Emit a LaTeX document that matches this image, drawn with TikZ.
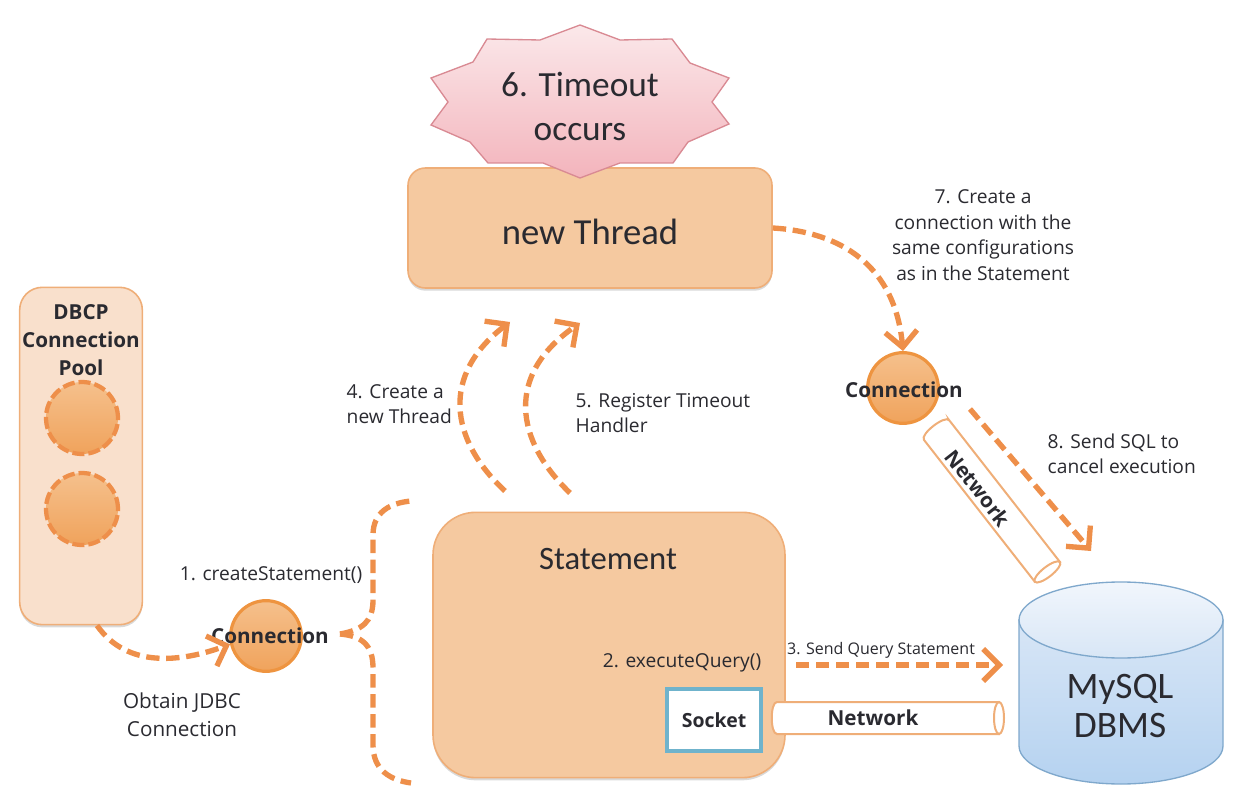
\documentclass[tikz,border=0pt]{standalone}
\usepackage{fontspec}
\setmainfont{Carlito}
\newfontfamily\labelfont{Open Sans}
\usetikzlibrary{arrows.meta, positioning, shapes.geometric, shadows}
\definecolor{boxfill}{HTML}{F5C9A0}
\definecolor{boxline}{HTML}{EFAE78}
\definecolor{poolfill}{HTML}{F9E0CC}
\definecolor{flowline}{HTML}{EE8F4A}
\definecolor{ballline}{HTML}{EE9440}
\definecolor{balllight}{HTML}{F5C08C}
\definecolor{balldark}{HTML}{F0A35C}
\definecolor{sockline}{HTML}{6FB3CC}
\definecolor{burstline}{HTML}{D98A93}
\definecolor{bursttop}{HTML}{FBE8EA}
\definecolor{burstbot}{HTML}{F3B4BC}
\definecolor{dblline}{HTML}{7FA8CC}
\definecolor{dbtop}{HTML}{F1F6FC}
\definecolor{dbmid}{HTML}{D8E6F6}
\definecolor{dbbot}{HTML}{B5D2F0}
\definecolor{inktext}{HTML}{2A2A30}
% tube: centre, rotation, half length
\newcommand{\nettube}[3]{\begin{scope}[shift={#1}, rotate=#2]
    \draw[tube] (-#3,-16) -- (#3,-16) -- (#3,16) -- (-#3,16) .. controls (-#3-7,16) and (-#3-7,-16) .. cycle;
    \draw[tube] (#3,0) ellipse (5 and 16);
\end{scope}}

\begin{document}
\begin{tikzpicture}[
    x=0.75pt, y=-0.75pt,
    softbox/.style={draw=boxline, line width=1.2pt, fill=boxfill, rounded corners=13pt,
        drop shadow={shadow xshift=0pt, shadow yshift=-2pt, opacity=0.3, fill=black!50}},
    ball/.style={circle, draw=ballline, line width=2.4pt, top color=balllight, bottom color=balldark, minimum size=53pt, inner sep=0pt},
    poolball/.style={circle, draw=flowline, line width=3.2pt, dash pattern=on 9pt off 3pt, top color=balllight, bottom color=balldark, minimum size=54pt, inner sep=0pt},
    tube/.style={draw=boxline, line width=1.5pt, fill=white},
    flow/.style={draw=flowline, line width=4pt, dash pattern=on 10pt off 5pt},
    flowtip/.style={flow, -{Straight Barb[length=12pt, width=24pt, line width=4pt]}},
    boldlabel/.style={font=\labelfont\bfseries\fontsize{15.5}{15.5}\selectfont, text=inktext},
    note/.style={font=\labelfont\fontsize{14.4}{19.2}\selectfont, text=inktext, align=left},
    title/.style={font=\fontsize{26.5}{33}\selectfont, text=inktext, align=center},
    ]

    % Background frame
    \useasboundingbox (0,0) rectangle (1252,812);

    % new Thread box
    \node[softbox, minimum width=273pt, minimum height=90pt] (thread) at (590,228) {};
    \node[title, font=\fontsize{27.5}{33}\selectfont] (threadtext) at (590,232) {new Thread};

    % Timeout burst
    \path[draw=burstline, line width=1pt, top color=bursttop, bottom color=burstbot]
        (580,25) -- (620,40) -- (672,39) -- (690,63) -- (729,78) -- (712,102) -- (729,124)
        -- (688,142) -- (673,163) -- (620,163) -- (580,178) -- (543,163) -- (488,163)
        -- (470,142) -- (431,125) -- (448,102) -- (431,78) -- (473,62) -- (487,39) -- (540,40) -- cycle;
    \node[title] (timeout) at (580,106) {6. Timeout\\occurs};

    % DBCP pool (left)
    \node[softbox, fill=poolfill, rounded corners=17pt, minimum width=92pt, minimum height=253pt] (pool) at (81,456) {};
    \node[boldlabel, align=center, font=\labelfont\bfseries\fontsize{15.5}{21}\selectfont] (pooltext) at (81,340) {DBCP\\Connection\\Pool};
    \node[poolball] (poola) at (82,418) {};
    \node[poolball] (poolb) at (82,509) {};

    % Connections
    \node[ball] (conna) at (266,636) {};
    \node[boldlabel] (connatext) at (270,636) {Connection};
    \node[ball] (connb) at (903,388) {};
    \node[boldlabel] (connbtext) at (904,390) {Connection};

    % Statement with socket
    \node[softbox, rounded corners=32pt, minimum width=264pt, minimum height=199pt] (stmt) at (609,645) {};
    \node[title, font=\fontsize{24.5}{28}\selectfont] (stmttext) at (608,559) {Statement};
    \node[note] (execute) at (682,663) {2. executeQuery()};
    \node[draw=sockline, line width=3pt, fill=white, minimum width=71pt, minimum height=46pt, boldlabel, font=\labelfont\bfseries\fontsize{14.6}{14.6}\selectfont] (socket) at (714,720) {Socket};

    % Network tubes
    \nettube{(888,718)}{0}{111}
    \node[boldlabel] (netbtext) at (873,718) {Network};
    \nettube{(992,501)}{-52}{90}
    \node[boldlabel, rotate=-52] (netatext) at (978,488) {Network};

    % MySQL cylinder
    \draw[draw=dblline, line width=1pt, top color=dbmid, bottom color=dbbot] (1019,620) -- (1019,746)
        .. controls (1019,767) and (1065,784) .. (1121,784) .. controls (1177,784) and (1223,767) .. (1223,746) -- (1223,620) -- cycle;
    \draw[draw=dblline, line width=1pt, top color=dbtop, bottom color=dbmid] (1121,620) ellipse (102 and 38);
    \node[title, font=\fontsize{28}{29}\selectfont] (dbms) at (1120,706) {MySQL\\DBMS};

    % Free ends of the arrows
    \coordinate (bracemid) at (340,634);
    \coordinate (bracetop) at (411,501);
    \coordinate (bracebot) at (411,783);
    \coordinate (foura) at (505,491);
    \coordinate (fourb) at (510,322);
    \coordinate (fivea) at (570,493);
    \coordinate (fiveb) at (580,323);
    \coordinate (sendstart) at (970,409);
    \coordinate (sendend) at (1091,551);
    \coordinate (querystart) at (796,665);
    \coordinate (queryend) at (1003,665);

    % Arrows
    \draw[flowtip] ([xshift=12pt]pool.south) to[out=-55, in=200] (conna.193);
    \draw[flow] (bracemid) .. controls (362,630) and (373,622) .. (373,600) -- (373,535) .. controls (373,512) and (390,503) .. (bracetop);
    \draw[flow] (bracemid) .. controls (362,636) and (373,645) .. (373,668) -- (373,745) .. controls (373,770) and (390,780) .. (bracebot);
    \draw[flowtip] (foura) .. controls (450,440) and (440,375) .. (fourb);
    \draw[flowtip] (fivea) .. controls (515,440) and (505,375) .. (fiveb);
    \draw[flowtip] (thread.east) .. controls (840,232) and (895,265) .. (connb.north);
    \draw[flowtip] (sendstart) -- (sendend);
    \draw[flowtip] (querystart) -- (queryend);

    % Labels
    \node[note, align=center] (seven) at (983,235) {7. Create a\\connection with the\\same configurations\\as in the Statement};
    \node[note, anchor=west] (four) at (342,404) {4. Create a\\new Thread};
    \node[note, anchor=west] (five) at (571,413) {5. Register Timeout\\Handler};
    \node[note, anchor=west] (eight) at (1043,454) {8. Send SQL to\\cancel execution};
    \node[note] (one) at (271,575) {1. createStatement()};
    \node[note, align=center, font=\labelfont\fontsize{15.5}{21}\selectfont] (obtain) at (182,715) {Obtain JDBC\\Connection};
    \node[note, font=\labelfont\fontsize{12}{12}\selectfont] (three) at (881,650) {3. Send Query Statement};
\end{tikzpicture}
\end{document}
